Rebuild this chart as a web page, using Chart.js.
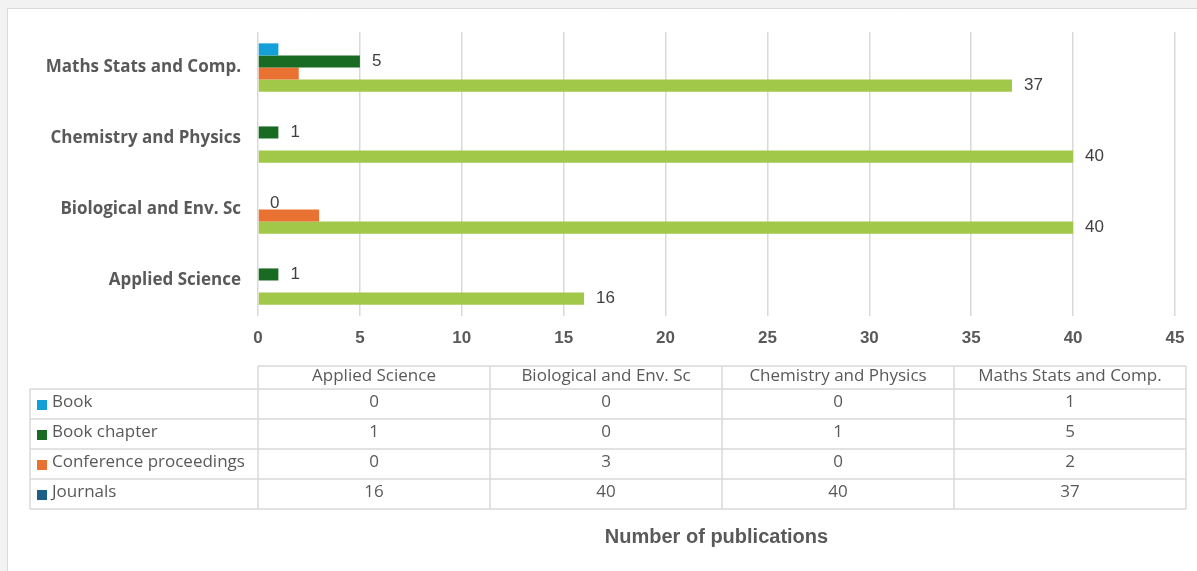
<!DOCTYPE html>
<html>
<head>
<meta charset="utf-8">
<script src="https://cdn.jsdelivr.net/npm/chart.js@4.4.1/dist/chart.umd.min.js"></script>
<style>
  html, body { margin: 0; padding: 0; background: #f2f2f2; }
  #wrap { position: absolute; left: 0; top: 0; width: 1197px; height: 571px; }
  canvas { display: block; }
</style>
</head>
<body>
<div id="wrap"><canvas id="c" width="1197" height="571"></canvas></div>
<script>
// ---- data ----
const categories = ['Applied Science', 'Biological and Env. Sc', 'Chemistry and Physics', 'Maths Stats and Comp.'];
const seriesNames = ['Book', 'Book chapter', 'Conference proceedings', 'Journals'];
const book = [0, 0, 0, 1];
const bookChapter = [1, 0, 1, 5];
const conference = [0, 3, 0, 2];
const journals = [16, 40, 40, 37];
const xMax = 45;
const xStep = 5;
const axisTitle = 'Number of publications';

// ---- styles ----
const barColors = ['#139fd8', '#196b24', '#e97132', '#a2c84a'];
const keyColors = ['#139fd8', '#196b24', '#e97132', '#1b5e86'];
const showLabels = [false, true, false, true];
const seriesValues = [book, bookChapter, conference, journals];

const textGray = '#595959';
const lineGray = '#d9d9d9';

const framePlugin = {
  id: 'frame',
  beforeDraw(chart) {
    const ctx = chart.ctx;
    ctx.save();
    ctx.fillStyle = '#f2f2f2';
    ctx.fillRect(0, 0, chart.width, chart.height);
    ctx.fillStyle = '#ffffff';
    ctx.fillRect(8, 9, chart.width, chart.height);
    ctx.strokeStyle = '#d9d9d9';
    ctx.lineWidth = 1;
    ctx.beginPath();
    ctx.moveTo(7.5, chart.height);
    ctx.lineTo(7.5, 8.5);
    ctx.lineTo(chart.width, 8.5);
    ctx.stroke();
    ctx.restore();
  }
};

const labelPlugin = {
  id: 'barLabels',
  afterDatasetsDraw(chart) {
    const ctx = chart.ctx;
    ctx.save();
    ctx.font = '17px "Liberation Sans", Arial, sans-serif';
    ctx.fillStyle = '#404040';
    ctx.textAlign = 'left';
    ctx.textBaseline = 'middle';
    chart.data.datasets.forEach((ds, di) => {
      if (!showLabels[di]) return;
      const meta = chart.getDatasetMeta(di);
      meta.data.forEach((el, i) => {
        ctx.fillText(String(ds.data[i]), el.x + 12, el.y);
      });
    });
    ctx.restore();
  }
};

const tablePlugin = {
  id: 'dataTable',
  afterDraw(chart) {
    const ctx = chart.ctx;
    const xs = chart.scales.x;
    const left0 = 30;
    const colStart = xs.left;
    const colW = 232;
    const right = colStart + colW * categories.length;
    const headTop = 366, headBot = 389, rowH = 30;
    const nRows = seriesNames.length;
    const bottom = headBot + rowH * nRows;
    ctx.save();
    ctx.strokeStyle = lineGray;
    ctx.lineWidth = 1.5;
    ctx.beginPath();
    ctx.moveTo(colStart, headTop); ctx.lineTo(right, headTop);
    ctx.moveTo(left0, headBot); ctx.lineTo(right, headBot);
    for (let r = 1; r <= nRows; r++) {
      ctx.moveTo(left0, headBot + rowH * r); ctx.lineTo(right, headBot + rowH * r);
    }
    ctx.moveTo(left0, headBot); ctx.lineTo(left0, bottom);
    for (let c = 0; c <= categories.length; c++) {
      const x = colStart + colW * c;
      ctx.moveTo(x, headTop); ctx.lineTo(x, bottom);
    }
    ctx.stroke();

    ctx.font = '17px "Open Sans", sans-serif';
    ctx.fillStyle = textGray;
    ctx.textBaseline = 'middle';
    ctx.textAlign = 'center';
    categories.forEach((cat, c) => {
      ctx.fillText(cat, colStart + colW * c + colW / 2, (headTop + headBot) / 2 - 1);
    });
    seriesNames.forEach((name, r) => {
      const cy = headBot + rowH * r + rowH / 2 - 2;
      ctx.fillStyle = keyColors[r];
      ctx.fillRect(37, cy - 2, 10, 10);
      ctx.fillStyle = textGray;
      ctx.textAlign = 'left';
      ctx.fillText(name, 52, cy);
      ctx.textAlign = 'center';
      seriesValues[r].forEach((v, c) => {
        ctx.fillText(String(v), colStart + colW * c + colW / 2, cy);
      });
    });

    ctx.font = 'bold 20px "Liberation Sans", Arial, sans-serif';
    ctx.textAlign = 'center';
    ctx.fillText(axisTitle, (xs.left + xs.right) / 2, 537);
    ctx.restore();
  }
};

new Chart(document.getElementById('c'), {
  type: 'bar',
  data: {
    labels: categories,
    datasets: seriesNames.map((name, i) => ({
      label: name,
      data: seriesValues[i],
      backgroundColor: barColors[i],
      borderWidth: 0,
      barPercentage: 1.0,
      categoryPercentage: 0.68
    }))
  },
  options: {
    indexAxis: 'y',
    responsive: false,
    animation: false,
    devicePixelRatio: 1,
    layout: { padding: { left: 0, top: 32, right: 22, bottom: 215 } },
    plugins: {
      legend: { display: false },
      tooltip: { enabled: false }
    },
    scales: {
      x: {
        min: 0, max: xMax,
        ticks: {
          stepSize: xStep,
          padding: 12,
          color: textGray,
          font: { family: '"Liberation Sans", Arial, sans-serif', size: 17, weight: 'bold' }
        },
        grid: { color: lineGray, lineWidth: 1.5, drawTicks: false },
        border: { display: false },
        afterFit(scale) { scale.height = 40; }
      },
      y: {
        reverse: true,
        ticks: {
          padding: 17,
          color: textGray,
          font: { family: '"Open Sans", sans-serif', size: 17, weight: 'bold' }
        },
        grid: { display: false, drawTicks: false },
        border: { display: false },
        afterFit(scale) { scale.width = 258; }
      }
    }
  },
  plugins: [framePlugin, labelPlugin, tablePlugin]
});
</script>
</body>
</html>
